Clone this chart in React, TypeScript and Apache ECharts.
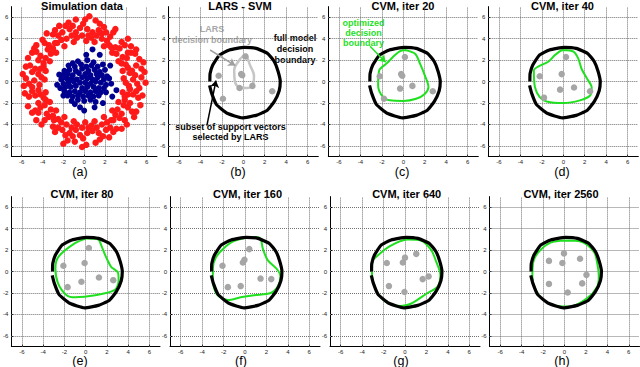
import React, { useEffect, useRef } from 'react';
import * as echarts from 'echarts';

const TICKS = [-6, -4, -2, 0, 2, 4, 6];

const TITLES = ['Simulation data', 'LARS - SVM', 'CVM, iter 20', 'CVM, iter 40', 'CVM, iter 80', 'CVM, iter 160', 'CVM, iter 640', 'CVM, iter 2560'];
const SUBLABELS = ['(a)', '(b)', '(c)', '(d)', '(e)', '(f)', '(g)', '(h)'];

const RED_RING = [
  [3.8,0.3],[4.3,-0.4],[4.7,0.2],[5.1,-0.2],[5.5,0.4],[5.9,-0.1],[4.0,-0.1],[5.3,-0.6],[4.9,0.6],
  [3.7,1.0],[4.2,1.3],[4.6,1.0],[5.0,1.5],[5.5,1.2],[4.4,0.8],[5.7,1.8],[4.0,1.6],
  [3.3,1.9],[3.7,2.3],[4.1,2.2],[4.5,2.7],[4.9,2.6],[4.2,2.7],[5.0,3.0],[3.6,1.7],
  [2.7,2.7],[3.0,3.2],[3.4,3.1],[3.6,3.7],[3.9,3.4],[4.2,4.0],[3.1,2.6],[2.6,3.2],
  [1.9,3.3],[2.2,3.8],[2.5,4.2],[2.8,4.6],[3.0,4.9],[2.1,4.6],[1.7,4.0],[2.4,3.4],
  [1.0,3.7],[1.2,4.3],[1.4,4.8],[1.5,5.4],[0.8,4.6],[1.1,5.7],[0.7,4.1],[1.7,4.5],
  [0.2,3.8],[-0.2,4.3],[0.3,4.9],[-0.1,5.4],[0.5,6.1],[0.1,5.8],[0.4,4.3],[-0.4,5.0],
  [-1.0,3.7],[-1.2,4.3],[-1.4,4.9],[-1.5,5.5],[-0.8,4.6],[-1.1,5.2],[-0.7,4.1],[-1.8,5.2],
  [-1.9,3.3],[-2.2,3.9],[-2.5,4.3],[-2.8,4.8],[-2.1,4.6],[-1.7,4.0],[-2.6,3.6],[-3.0,4.4],
  [-2.7,2.7],[-3.0,3.1],[-3.4,3.4],[-3.8,3.6],[-3.2,2.6],[-3.5,3.0],[-4.0,3.9],[-2.8,3.6],
  [-3.3,1.9],[-3.7,2.2],[-4.2,2.4],[-4.6,2.8],[-5.0,2.7],[-3.9,1.7],[-4.4,2.0],[-4.8,3.1],
  [-3.7,1.0],[-4.2,1.2],[-4.7,1.2],[-5.2,1.5],[-5.6,1.4],[-4.4,0.7],[-5.0,0.9],[-3.9,1.4],
  [-3.8,0.2],[-4.3,-0.3],[-4.8,0.1],[-5.3,-0.2],[-5.9,0.7],[-5.6,0.3],[-4.1,0.4],[-5.0,-0.5],
  [-3.7,-1.0],[-4.2,-1.2],[-4.7,-1.3],[-5.3,-1.4],[-5.7,-1.1],[-4.4,-0.8],[-5.0,-0.9],[-3.9,-1.5],
  [-3.3,-1.9],[-3.8,-2.2],[-4.2,-2.4],[-4.7,-2.7],[-5.0,-2.9],[-3.7,-1.7],[-4.4,-2.0],[-4.4,-2.9],
  [-2.7,-2.7],[-3.0,-3.2],[-3.4,-3.3],[-3.8,-3.6],[-4.1,-4.0],[-3.2,-2.6],[-2.9,-3.6],[-3.6,-3.0],
  [-1.9,-3.3],[-2.2,-3.8],[-2.5,-4.3],[-2.8,-4.7],[-2.1,-4.5],[-1.7,-4.0],[-2.5,-3.5],[-3.0,-4.2],
  [-1.0,-3.7],[-1.2,-4.3],[-1.4,-4.8],[-1.6,-5.5],[-0.8,-4.5],[-1.1,-5.1],[-0.7,-4.0],[-1.8,-5.0],[-2.0,-5.8],
  [0.1,-3.8],[-0.2,-4.3],[0.3,-4.8],[-0.1,-5.3],[0.2,-5.9],[-0.4,-5.0],[0.4,-4.3],[-0.2,-6.1],
  [1.0,-3.7],[1.2,-4.3],[1.4,-4.8],[1.5,-5.4],[0.8,-4.6],[1.1,-5.7],[0.7,-4.1],[1.8,-5.1],
  [1.9,-3.3],[2.2,-3.8],[2.5,-4.3],[2.8,-4.7],[2.1,-4.5],[1.7,-4.0],[2.6,-3.6],[3.1,-4.4],
  [2.7,-2.7],[3.0,-3.1],[3.4,-3.4],[3.9,-3.6],[3.2,-2.6],[3.6,-3.0],[4.1,-4.0],[2.8,-3.6],
  [3.3,-1.9],[3.8,-2.2],[4.2,-2.4],[4.6,-2.8],[5.0,-2.8],[3.9,-1.7],[4.4,-2.0],[4.8,-3.3],
  [3.7,-1.0],[4.2,-1.2],[4.7,-1.2],[5.2,-1.5],[5.6,-1.3],[4.4,-0.7],[5.0,-0.9],[3.9,-1.4],
  [4.5,3.3],[5.3,2.1],[-4.6,3.4],[-5.4,2.2],[-5.4,-2.3],[-4.6,-3.6],[3.6,-4.4],[5.4,-2.2],
  [1.9,5.1],[-0.8,5.8],[-2.4,5.2],[-3.6,4.5],[-5.8,-0.4],[-0.9,-5.6],[2.4,-5.2],[5.8,0.9],
];

const BLUE_CORE = [
  [-0.6,1.9],[0.3,2.0],[0.9,1.8],[-1.1,1.7],
  [-1.5,1.5],[-0.9,1.4],[-0.3,1.6],[0.2,1.4],[0.7,1.5],[1.3,1.4],[1.8,1.6],
  [-1.9,1.0],[-1.4,1.1],[-0.8,1.0],[-0.2,1.2],[0.4,1.0],[1.0,1.1],[1.5,0.9],[2.0,1.1],
  [-2.1,0.6],[-1.6,0.7],[-1.1,0.6],[-0.5,0.8],[0.1,0.7],[0.6,0.6],[1.2,0.7],[1.7,0.6],[2.2,0.5],
  [-2.2,0.2],[-1.7,0.3],[-1.2,0.3],[-0.7,0.2],[-0.2,0.4],[0.3,0.3],[0.8,0.2],[1.3,0.4],[1.9,0.2],[2.4,0.3],
  [-2.0,-0.2],[-1.5,-0.1],[-1.0,0.0],[-0.4,-0.1],[0.1,-0.1],[0.6,-0.2],[1.1,0.0],[1.6,-0.1],[2.1,-0.3],
  [-2.3,-0.6],[-1.8,-0.5],[-1.3,-0.5],[-0.8,-0.4],[-0.2,-0.6],[0.3,-0.5],[0.9,-0.5],[1.4,-0.6],[1.9,-0.6],
  [-1.9,-0.9],[-1.4,-1.0],[-0.9,-0.9],[-0.4,-1.0],[0.1,-0.9],[0.6,-1.0],[1.1,-0.9],[1.6,-1.0],[2.1,-1.0],
  [-1.6,-1.3],[-1.1,-1.4],[-0.6,-1.3],[-0.1,-1.4],[0.4,-1.3],[0.9,-1.4],[1.4,-1.3],
  [-1.2,-1.8],[-0.6,-1.7],[0.0,-1.8],[0.6,-1.7],[1.1,-1.9],
  [0.8,3.0],[1.5,2.5],[0.2,2.5],[-0.9,-2.1],[0.0,-2.7],[1.0,-2.4],[2.7,-1.4],[3.1,-0.8],[2.5,1.5],
  [-2.4,0.65],[1.8,-2.0],[-2.0,-1.3],[-0.4,-2.4],[2.6,-0.2],[-2.6,-0.3],
];

// full-model decision boundary (same in panels b-h), open at a small gap on the left side
const FULL_BOUNDARY = [
  [-3.15,-0.35],[-2.95,-1.1],[-2.5,-2.15],[-1.5,-2.95],[-0.1,-3.38],[1.2,-3.15],[2.2,-2.7],[2.9,-1.85],
  [3.35,-0.85],[3.45,0.0],[3.25,0.95],[2.9,1.85],[2.3,2.6],[1.2,3.1],[0.1,3.2],[-1.3,2.95],
  [-2.25,2.45],[-2.85,1.55],[-3.1,0.75],[-3.12,0.0],
];

const LARS_BOUNDARY = [
  [0.3,2.5],[0.6,1.6],[1.0,0.5],[0.85,-0.4],[0.3,-0.6],[-0.3,-0.55],[-0.8,0.1],[-0.85,1.1],[-0.45,1.9],[0.0,2.4],[0.3,2.5],
];

const GREEN_C = [[0.15,2.95],[1.1,2.6],[1.55,1.7],[2.0,0.6],[2.35,-0.5],[2.0,-1.15],[1.2,-1.6],[0,-1.8],[-1.25,-1.75],[-2.0,-1.3],[-2.35,-0.35],[-2.25,1.05],[-1.55,1.7],[-0.8,2.45],[-0.3,2.85],[0.15,2.95]];
const GREEN_D = [[0,2.95],[0.95,2.8],[1.4,2.15],[1.7,1.2],[2.2,0.3],[2.65,-0.55],[2.5,-1.3],[1.55,-1.75],[0,-2.0],[-1.55,-1.85],[-2.2,-1.45],[-2.65,-0.5],[-2.75,1.05],[-2.35,1.4],[-1.4,1.85],[-0.8,2.45],[-0.3,2.85],[0,2.95]];
const GREEN_E = [[0.1,3.1],[-1.0,2.65],[-2.55,1.4],[-2.85,0.3],[-2.6,-1.1],[-1.8,-2.2],[-1.0,-2.4],[0.9,-2.2],[2.75,-1.7],[3.1,-0.8],[3.05,-0.1],[2.4,0.45],[1.9,1.4],[1.45,2.5],[1.2,3.0],[0.1,3.1]];
const GREEN_F = [[0.25,3.2],[-1.15,2.8],[-1.95,2.2],[-2.7,1.35],[-3.0,0.3],[-3.0,-0.8],[-2.8,-1.8],[-2.4,-2.35],[-1.6,-2.65],[-0.4,-2.4],[0.85,-2.2],[2.4,-2.0],[3.05,-1.4],[3.3,-0.45],[3.05,0.15],[2.1,1.1],[1.65,2.2],[1.5,2.95],[1.2,3.2],[0.25,3.2]];
const GREEN_G = [[-3.0,1.1],[-1.45,2.35],[0.25,3.0],[1.5,2.9],[2.45,2.0],[2.9,0.95],[3.3,-0.3],[3.05,-1.4],[2.1,-2.0],[0.55,-3.0],[-0.4,-3.2],[-1.6,-2.95],[-2.55,-2.0],[-3.0,-0.8],[-3.1,0.3],[-3.0,1.1]];
const GREEN_H = [[0.1,2.9],[1.5,2.8],[2.75,1.85],[3.05,0.8],[3.2,-0.45],[3.05,-1.4],[2.1,-2.5],[0.55,-3.25],[-0.7,-3.2],[-1.95,-2.65],[-2.7,-1.7],[-3.0,-0.45],[-2.9,0.95],[-2.4,1.85],[-1.3,2.7],[0.1,2.9]];

const SV_B = [[0.2,2.35],[-2.3,0.55],[-1.9,-1.6],[-0.2,0.7],[-0.1,0.6],[-0.35,-0.6],[0.85,-0.4],[2.7,-0.9]];
const SV_C = [[0.15,2.3],[-2.2,0.5],[-1.8,-1.6],[-0.2,0.7],[-0.1,0.55],[-0.3,-0.65],[0.85,-0.4],[2.75,-0.9]];
const SV_D = [[0.25,2.3],[-2.2,0.5],[-1.8,-1.5],[-0.15,0.7],[-0.3,-0.75],[1.0,-0.55],[2.5,-0.9]];
const SV_E = [[0.3,2.2],[-2.1,0.55],[-1.7,-1.45],[-0.1,0.8],[-0.4,-0.95],[1.25,-0.55],[2.6,-0.8]];
const SV_F = [[0.4,2.1],[-2.1,0.55],[-1.6,-1.45],[-0.05,1.1],[-0.2,0.85],[-0.4,-1.35],[1.45,-0.65],[2.45,-0.7]];
const SV_G = [[-1.7,0.8],[-0.2,0.85],[0,1.3],[1.05,1.65],[-1.5,-1.35],[-0.05,-1.9],[1.65,-0.7],[2.2,-0.45]];
const SV_H = [[-0.05,1.7],[-1.45,1.0],[-0.2,0.8],[1.45,1.2],[2.05,-0.3],[1.65,-1.1],[-1.45,-1.15],[0.3,-1.95]];

const GREENS = [GREEN_C, GREEN_D, GREEN_E, GREEN_F, GREEN_G, GREEN_H];
const SVS = [SV_C, SV_D, SV_E, SV_F, SV_G, SV_H];

const FONT = '"Liberation Sans", Arial, Helvetica, sans-serif';
const GREEN = '#1fe01f';
const GRAY_DOT = '#a6a6a6';
const LARS_GRAY = '#c6c6c6';

const PANEL_POS = [
  [7, 6.6], [168.3, 6.6], [328.3, 6.6], [488.3, 6.6],
  [10, 196.6], [170, 196.6], [330, 196.6], [489.5, 196.6],
];
const PANEL_SIZE = 150;
const TITLE_X = [82, 240, 403, 562.5, 82, 247.5, 406.7, 561];
const SUB_X = [80, 238, 402, 562, 80, 241, 401, 562];

function text(x: number, y: number, t: string, font: string, fill: string, lineHeight?: number) {
  return {
    type: 'text',
    x,
    y,
    silent: true,
    style: {
      text: t,
      font,
      fill,
      textAlign: 'center',
      textVerticalAlign: 'middle',
      align: 'center',
      verticalAlign: 'middle',
      lineHeight,
    },
  };
}

export default function App() {
  const ref = useRef<HTMLDivElement>(null);
  useEffect(() => {
    if (!ref.current) return;
    const chart = echarts.init(ref.current, null, { renderer: 'svg' });

    const grid: any[] = [];
    const xAxis: any[] = [];
    const yAxis: any[] = [];
    const series: any[] = [];
    const axisCommon = {
      type: 'value',
      min: -7,
      max: 7,
      axisLine: { show: true, onZero: false, lineStyle: { color: '#000', width: 1 } },
      axisTick: { show: true, inside: true, length: 2, customValues: TICKS, lineStyle: { color: '#000' } },
      axisLabel: { show: true, customValues: TICKS, fontSize: 6, color: '#222', margin: 2, fontFamily: FONT },
      splitLine: { show: false },
    };

    for (let i = 0; i < 8; i++) {
      grid.push({ left: PANEL_POS[i][0], top: PANEL_POS[i][1], width: PANEL_SIZE, height: PANEL_SIZE, containLabel: false });
      xAxis.push({ ...axisCommon, gridIndex: i, position: 'bottom' });
      yAxis.push({ ...axisCommon, gridIndex: i, position: 'left', axisLabel: { ...axisCommon.axisLabel, margin: 3 } });
      // dotted grid lines
      series.push({
        type: 'line',
        xAxisIndex: i,
        yAxisIndex: i,
        data: [],
        z: 1,
        silent: true,
        markLine: {
          z: 1,
          silent: true,
          symbol: ['none', 'none'],
          label: { show: false },
          lineStyle: { type: 'dotted', color: '#707070', width: 1 },
          data: [...TICKS.map((t) => ({ xAxis: t })), ...TICKS.map((t) => ({ yAxis: t }))],
        },
      });
    }

    // (a) simulation data
    series.push({
      type: 'scatter', xAxisIndex: 0, yAxisIndex: 0, data: RED_RING, symbolSize: 6.5, z: 3,
      itemStyle: { color: '#ff1a1a', opacity: 1 },
    });
    series.push({
      type: 'scatter', xAxisIndex: 0, yAxisIndex: 0, data: BLUE_CORE, symbolSize: 6, z: 3,
      itemStyle: { color: '#000090', opacity: 1 },
    });

    // (b)-(h) full model boundary
    for (let i = 1; i < 8; i++) {
      series.push({
        type: 'line', xAxisIndex: i, yAxisIndex: i, data: FULL_BOUNDARY, showSymbol: false, symbol: 'none',
        smooth: 0.15, z: 3, lineStyle: { color: '#000', width: 3.2 },
      });
    }

    // (b) LARS boundary + arrows
    series.push({
      type: 'line', xAxisIndex: 1, yAxisIndex: 1, data: LARS_BOUNDARY, showSymbol: false, symbol: 'none',
      smooth: 0.4, z: 2, lineStyle: { color: LARS_GRAY, width: 2.5 },
      markLine: {
        silent: true,
        symbol: ['none', 'arrow'],
        symbolSize: 7,
        label: { show: false },
        data: [
          [{ coord: [-3.1, 2.95], lineStyle: { color: '#a0a0a0', width: 1.5, type: 'solid' } }, { coord: [-0.75, 1.5] }],
          [{ coord: [-3.4, -4.1], lineStyle: { color: '#000', width: 1.5, type: 'solid' } }, { coord: [-2.55, 0.1] }],
        ],
      },
    });
    series.push({
      type: 'scatter', xAxisIndex: 1, yAxisIndex: 1, data: SV_B, symbolSize: 6.5, z: 4,
      itemStyle: { color: GRAY_DOT, opacity: 1 },
    });

    // (c)-(h) optimized boundary and support vectors
    for (let k = 0; k < 6; k++) {
      const idx = k + 2;
      const s: any = {
        type: 'line', xAxisIndex: idx, yAxisIndex: idx, data: GREENS[k], showSymbol: false, symbol: 'none',
        smooth: 0.3, z: 2, lineStyle: { color: GREEN, width: 2 },
      };
      if (k === 0) {
        s.markLine = {
          silent: true,
          symbol: ['none', 'arrow'],
          symbolSize: 7,
          label: { show: false },
          data: [[{ coord: [-3.1, 3.3], lineStyle: { color: GREEN, width: 1.5, type: 'solid' } }, { coord: [-1.65, 1.8] }]],
        };
      }
      series.push(s);
      series.push({
        type: 'scatter', xAxisIndex: idx, yAxisIndex: idx, data: SVS[k], symbolSize: 6.5, z: 4,
        itemStyle: { color: GRAY_DOT, opacity: 1 },
      });
    }

    const titleFont = `bold 11px ${FONT}`;
    const subFont = `12.5px ${FONT}`;
    const annFont = `bold 9px ${FONT}`;
    const graphic: any[] = [];
    for (let i = 0; i < 8; i++) {
      const top = i < 4;
      graphic.push(text(TITLE_X[i], top ? 6 : 194, TITLES[i], titleFont, '#000'));
      graphic.push(text(SUB_X[i], top ? 172 : 360.5, SUBLABELS[i], subFont, '#000'));
    }
    graphic.push(text(212, 34.5, 'LARS\ndecision boundary', annFont, '#a8a8a8', 10.5));
    graphic.push(text(295, 49, 'full model\ndecision\nboundary', annFont, '#000', 11));
    graphic.push(text(230.5, 132, 'subset of support vectors\nselected by LARS', annFont, '#000', 10));
    graphic.push(text(363.5, 33, 'optimized\ndecision\nboundary', annFont, GREEN, 10));

    chart.setOption({
      animation: false,
      backgroundColor: '#fff',
      grid,
      xAxis,
      yAxis,
      series,
      graphic,
    });
    return () => chart.dispose();
  }, []);

  return <div ref={ref} style={{ position: 'fixed', left: 0, top: 0, width: 640, height: 367 }} />;
}
